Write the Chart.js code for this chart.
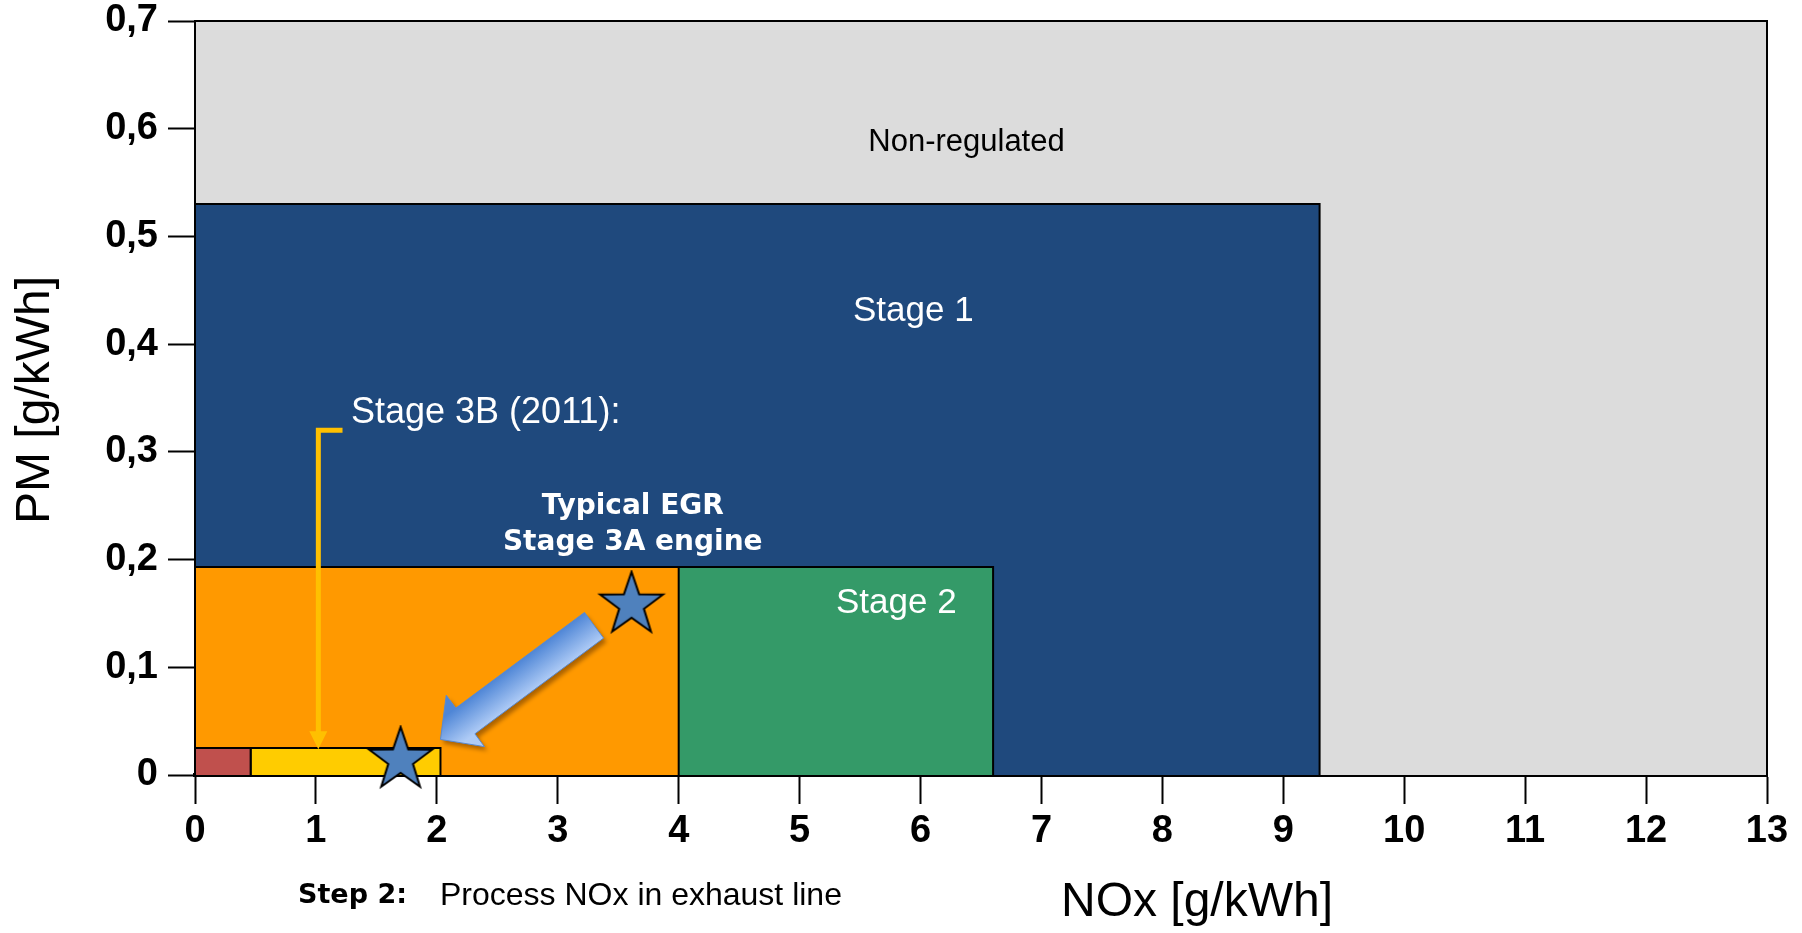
<!DOCTYPE html>
<html>
<head>
<meta charset="utf-8">
<title>PM vs NOx emission stages</title>
<script src="https://cdn.jsdelivr.net/npm/chart.js@4.4.1/dist/chart.umd.min.js"></script>
<style>
  html, body { margin: 0; padding: 0; background: #fff; }
  #wrap { width: 1802px; height: 933px; }
</style>
</head>
<body>
<div id="wrap"><canvas id="stageChart"></canvas></div>
<script>
// Emission limit boxes, all sitting on PM = 0
const stageNames = ['Non-regulated', 'Stage 1', 'Stage 2', 'Stage 3A', 'Stage 3B', 'Stage 4'];
const noxFrom = [0, 0, 0, 0, 0.46, 0];
const noxTo = [13, 9.3, 6.6, 4.0, 2.03, 0.46];
const pmLimit = [0.7, 0.53, 0.193, 0.193, 0.025, 0.025];
const stageColors = ['#DCDCDC', '#1F497D', '#349A68', '#FF9900', '#FFCC00', '#C0504D'];

// Engine points (stars) and the move between them
const engineNox = [3.61, 1.70];
const enginePm = [0.158, 0.014];
const arrowFrom = [3.30, 0.139];
const arrowTo = [2.03, 0.033];

// Yellow pointer from the Stage 3B label down to its box
const pointerNox = [1.22, 1.02, 1.02];
const pointerPm = [0.32, 0.32, 0.04];
const pointerTip = 0.024;

const xTicks = [0, 1, 2, 3, 4, 5, 6, 7, 8, 9, 10, 11, 12, 13];
const yTickLabels = ['0', '0,1', '0,2', '0,3', '0,4', '0,5', '0,6', '0,7'];

// Text placed in data units
const notes = [
  { text: 'Non-regulated', x: 6.38, y: 0.587, color: '#000', font: '31px "Liberation Sans"', align: 'center' },
  { text: 'Stage 1', x: 5.94, y: 0.43, color: '#fff', font: '35px "Liberation Sans"', align: 'center' },
  { text: 'Stage 2', x: 5.80, y: 0.159, color: '#fff', font: '35px "Liberation Sans"', align: 'center' },
  { text: 'Typical EGR', x: 3.62, y: 0.249, color: '#fff', font: 'bold 28px "DejaVu Sans"', align: 'center' },
  { text: 'Stage 3A engine', x: 3.62, y: 0.216, color: '#fff', font: 'bold 28px "DejaVu Sans"', align: 'center' },
  { text: 'Stage 3B (2011):', x: 1.29, y: 0.336, color: '#fff', font: '36px "Liberation Sans"', align: 'left' }
];

// Five pointed star used as point style
function makeStar(outer, inner) {
  const c = document.createElement('canvas');
  const size = outer * 2 + 4;
  c.width = size;
  c.height = size;
  const g = c.getContext('2d');
  g.beginPath();
  for (let i = 0; i < 10; i++) {
    const r = i % 2 ? inner : outer;
    const a = -Math.PI / 2 + i * Math.PI / 5;
    g.lineTo(size / 2 + r * Math.cos(a), size / 2 + r * Math.sin(a));
  }
  g.closePath();
  g.fillStyle = '#4F81BD';
  g.fill();
  g.lineWidth = 2;
  g.strokeStyle = '#000';
  g.stroke();
  return c;
}

function drawBlockArrow(ctx, x0, y0, x1, y1) {
  const dx = x1 - x0, dy = y1 - y0, len = Math.hypot(dx, dy);
  const ux = dx / len, uy = dy / len, nx = -uy, ny = ux;
  const shaft = 16, head = 32, headLen = 31;
  const bx = x1 - ux * headLen, by = y1 - uy * headLen;
  const pts = [
    [x0 + nx * shaft, y0 + ny * shaft],
    [bx + nx * shaft, by + ny * shaft],
    [bx + nx * head, by + ny * head],
    [x1, y1],
    [bx - nx * head, by - ny * head],
    [bx - nx * shaft, by - ny * shaft],
    [x0 - nx * shaft, y0 - ny * shaft]
  ];
  const mx = (x0 + x1) / 2, my = (y0 + y1) / 2;
  const grad = ctx.createLinearGradient(mx + nx * shaft, my + ny * shaft, mx - nx * shaft, my - ny * shaft);
  grad.addColorStop(0, '#4F86D6');
  grad.addColorStop(1, '#AECBF6');
  ctx.save();
  ctx.beginPath();
  pts.forEach((p, i) => i ? ctx.lineTo(p[0], p[1]) : ctx.moveTo(p[0], p[1]));
  ctx.closePath();
  ctx.shadowColor = 'rgba(90, 45, 0, 0.5)';
  ctx.shadowOffsetX = 3;
  ctx.shadowOffsetY = 4;
  ctx.shadowBlur = 4;
  ctx.fillStyle = grad;
  ctx.fill();
  ctx.shadowColor = 'transparent';
  ctx.lineWidth = 1;
  ctx.strokeStyle = '#5A8AD0';
  ctx.stroke();
  ctx.restore();
}

const overlay = {
  id: 'overlay',
  beforeDatasetDraw(chart, args) {
    if (args.index !== 0) return; // arrow goes just under the stars
    const { x, y } = chart.scales;
    drawBlockArrow(chart.ctx,
      x.getPixelForValue(arrowFrom[0]), y.getPixelForValue(arrowFrom[1]),
      x.getPixelForValue(arrowTo[0]), y.getPixelForValue(arrowTo[1]));
  },
  afterDatasetsDraw(chart) {
    const { ctx, scales: { x, y } } = chart;
    ctx.save();

    // head of the yellow pointer
    const tx = x.getPixelForValue(pointerNox[2]);
    const ty = y.getPixelForValue(pointerTip);
    ctx.fillStyle = '#FFC000';
    ctx.beginPath();
    ctx.moveTo(tx, ty);
    ctx.lineTo(tx - 9, ty - 18);
    ctx.lineTo(tx + 9, ty - 18);
    ctx.closePath();
    ctx.fill();

    ctx.textBaseline = 'middle';
    notes.forEach(n => {
      ctx.font = n.font;
      ctx.fillStyle = n.color;
      ctx.textAlign = n.align;
      ctx.fillText(n.text, x.getPixelForValue(n.x), y.getPixelForValue(n.y));
    });
    ctx.restore();
  },
  afterDraw(chart) {
    const ctx = chart.ctx;
    ctx.save();
    ctx.fillStyle = '#000';
    ctx.textBaseline = 'middle';

    ctx.font = '48px "Liberation Sans"';
    ctx.textAlign = 'center';
    ctx.fillText('NOx [g/kWh]', 1197, 903);

    ctx.save();
    ctx.translate(36, 400);
    ctx.rotate(-Math.PI / 2);
    ctx.fillText('PM [g/kWh]', 0, 0);
    ctx.restore();

    ctx.textAlign = 'left';
    ctx.font = 'bold 27px "DejaVu Sans"';
    ctx.fillText('Step 2:', 298, 896);
    ctx.font = '32px "Liberation Sans"';
    ctx.fillText('Process NOx in exhaust line', 440, 896);
    ctx.restore();
  }
};

const starImg = makeStar(33, 13);

const datasets = [
  {
    label: 'Engines',
    type: 'scatter',
    data: engineNox.map((v, i) => ({ x: v, y: enginePm[i] })),
    pointStyle: starImg,
    pointRadius: 33,
    clip: false
  },
  {
    label: 'Stage 3B pointer',
    data: pointerNox.map((v, i) => ({ x: v, y: pointerPm[i] })),
    borderColor: '#FFC000',
    borderWidth: 5,
    pointRadius: 0,
    fill: false,
    tension: 0
  }
];

// boxes: first dataset is drawn on top, so push the front-most box first
for (let i = stageNames.length - 1; i >= 0; i--) {
  datasets.push({
    label: stageNames[i],
    data: [
      { x: noxFrom[i], y: 0 },
      { x: noxFrom[i], y: pmLimit[i] },
      { x: noxTo[i], y: pmLimit[i] },
      { x: noxTo[i], y: 0 }
    ],
    borderColor: '#000',
    borderWidth: 2,
    backgroundColor: stageColors[i],
    fill: 'origin',
    pointRadius: 0,
    tension: 0,
    clip: 6
  });
}

const tickFont = { family: 'Liberation Sans', size: 38, weight: 'bold' };
// small line height keeps the top label from pushing the plot down
const yTickFont = { ...tickFont, lineHeight: 0.5 };

new Chart(document.getElementById('stageChart'), {
  type: 'line',
  data: { datasets },
  options: {
    responsive: true,
    maintainAspectRatio: false,
    animation: false,
    // big star points would otherwise add padding round the plot
    layout: { autoPadding: false, padding: { top: 21, right: 35, left: 0, bottom: 0 } },
    plugins: {
      legend: { display: false },
      tooltip: { enabled: false }
    },
    scales: {
      x: {
        type: 'linear',
        min: xTicks[0],
        max: xTicks[xTicks.length - 1],
        afterBuildTicks: s => { s.ticks = xTicks.map(v => ({ value: v })); },
        afterFit: s => { s.height = 158; },
        ticks: { font: tickFont, color: '#000', padding: 5, maxRotation: 0, autoSkip: false },
        grid: { drawOnChartArea: false, tickLength: 29, tickWidth: 2, tickColor: '#000' },
        border: { color: '#000', width: 4 }
      },
      y: {
        min: 0,
        max: 0.7,
        afterBuildTicks: s => { s.ticks = yTickLabels.map((_, i) => ({ value: i / 10 })); },
        afterFit: s => { s.width = 195; s.paddingTop = 0; },
        ticks: {
          font: yTickFont,
          color: '#000',
          padding: 10,
          callback: value => yTickLabels[Math.round(value * 10)]
        },
        grid: { drawOnChartArea: false, tickLength: 27, tickWidth: 2, tickColor: '#000' },
        border: { color: '#000', width: 3 }
      }
    }
  },
  plugins: [overlay]
});
</script>
</body>
</html>
